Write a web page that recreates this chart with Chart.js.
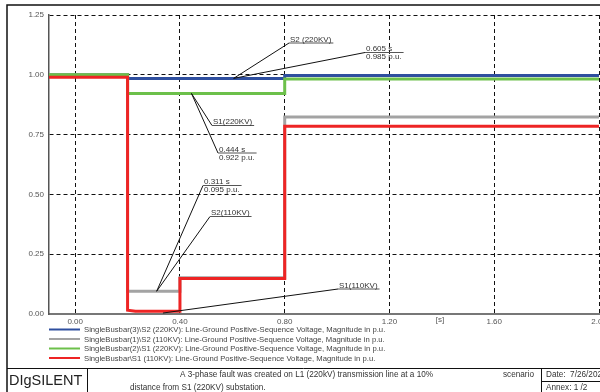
<!DOCTYPE html>
<html>
<head>
<meta charset="utf-8">
<script src="https://cdn.jsdelivr.net/npm/chart.js@4.4.0/dist/chart.umd.min.js"></script>
<style>
  html, body { margin: 0; padding: 0; background: #fff; }
  #chart { display: block; }
</style>
</head>
<body>
<canvas id="chart" width="600" height="392"></canvas>
<script>
// Кривые напряжения (время в с, значение в о.е.)
const seriesNames = [
  "SingleBusbar(3)\\S2 (220KV): Line-Ground Positive-Sequence Voltage, Magnitude in p.u.",
  "SingleBusbar(1)\\S2 (110KV): Line-Ground Positive-Sequence Voltage, Magnitude in p.u.",
  "SingleBusbar(2)\\S1 (220KV): Line-Ground Positive-Sequence Voltage, Magnitude in p.u.",
  "SingleBusbar\\S1 (110KV): Line-Ground Positive-Sequence Voltage, Magnitude in p.u.",
];
const seriesColors = ["#2f4f9f", "#a3a3a3", "#6cc04a", "#ee2424"];

const s2hvTime = [-0.1, 0.2, 0.2, 0.8, 0.8, 2.0];
const s2hvVals = [1.0, 1.0, 0.985, 0.985, 0.997, 0.997];

const s2lvTime = [-0.1, 0.2, 0.2, 0.4, 0.4, 0.8, 0.8, 2.0];
const s2lvVals = [1.0, 1.0, 0.095, 0.095, 0.152, 0.152, 0.824, 0.824];

const s1hvTime = [-0.1, 0.2, 0.2, 0.8, 0.8, 2.0];
const s1hvVals = [1.0, 1.0, 0.922, 0.922, 0.982, 0.982];

const s1lvTime = [-0.1, 0.2, 0.2, 0.23, 0.4, 0.4, 0.8, 0.8, 2.0];
const s1lvVals = [0.99, 0.99, 0.016, 0.012, 0.012, 0.148, 0.148, 0.785, 0.785];

const xTickValues = [0, 0.4, 0.8, 1.2, 1.6, 2.0];
const xTickLabels = ["0.00", "0.40", "0.80", "1.20", "1.60", "2.00"];

// Курсоры (значения) и метки кривых
const cursorT = [0.605, 0.444, 0.311];
const cursorV = [0.985, 0.922, 0.095];
const tagNames = ["S2 (220KV)", "S1(220KV)", "S2(110KV)", "S1(110KV)"];
const tagT = [0.605, 0.444, 0.311, 0.335];
const tagV = [0.985, 0.922, 0.095, 0.004];

const FONT = "Arial, 'Liberation Sans', sans-serif";

function toPoints(ts, vs) {
  return ts.map((t, i) => ({ x: t, y: vs[i] }));
}

const overlay = {
  id: "overlay",
  afterDraw(chart) {
    const ctx = chart.ctx;
    const xs = chart.scales.x;
    const ys = chart.scales.y;
    ctx.save();

    // рамка листа
    ctx.strokeStyle = "#111";
    ctx.lineWidth = 1.5;
    ctx.beginPath();
    ctx.moveTo(7, 392);
    ctx.lineTo(7, 5);
    ctx.lineTo(600, 5);
    ctx.stroke();
    ctx.lineWidth = 1;
    ctx.beginPath();
    ctx.moveTo(7, 368.5);
    ctx.lineTo(600, 368.5);
    ctx.moveTo(87.5, 368.5);
    ctx.lineTo(87.5, 392);
    ctx.moveTo(541.5, 368.5);
    ctx.lineTo(541.5, 392);
    ctx.moveTo(541.5, 381.5);
    ctx.lineTo(600, 381.5);
    ctx.stroke();

    // подпись оси
    ctx.fillStyle = "#555";
    ctx.font = "8px " + FONT;
    ctx.textAlign = "center";
    ctx.textBaseline = "middle";
    ctx.fillText("[s]", 440, 320);

    // легенда
    ctx.textAlign = "left";
    ctx.font = "7.7px " + FONT;
    const legendY = [329.5, 339, 348.5, 358];
    chart.data.datasets.forEach((ds, i) => {
      ctx.strokeStyle = ds.borderColor;
      ctx.lineWidth = 2;
      ctx.beginPath();
      ctx.moveTo(49, legendY[i]);
      ctx.lineTo(80, legendY[i]);
      ctx.stroke();
      ctx.fillStyle = "#444";
      ctx.fillText(ds.label, 84, legendY[i] + 0.5);
    });

    // выноски
    ctx.font = "8px " + FONT;
    const labelAt = (tx, ty, top, bottom) => {
      const w = Math.max(ctx.measureText(top).width, bottom ? ctx.measureText(bottom).width : 0) + 3;
      ctx.strokeStyle = "#555";
      ctx.lineWidth = 1;
      ctx.beginPath();
      ctx.moveTo(tx, ty);
      ctx.lineTo(tx + w, ty);
      ctx.stroke();
      ctx.fillStyle = "#333";
      ctx.textBaseline = "alphabetic";
      ctx.fillText(top, tx + 1, ty - 1.5);
      if (bottom) {
        ctx.textBaseline = "top";
        ctx.fillText(bottom, tx + 1, ty + 0.5);
      }
    };
    const leader = (t, v, tx, ty) => {
      ctx.strokeStyle = "#111";
      ctx.lineWidth = 1;
      ctx.beginPath();
      ctx.moveTo(xs.getPixelForValue(t), ys.getPixelForValue(v));
      ctx.lineTo(tx, ty);
      ctx.stroke();
    };
    const cursorBoxes = [[365, 52.5], [218, 153], [203, 185.5]];
    cursorT.forEach((t, i) => {
      const [bx, by] = cursorBoxes[i];
      leader(t, cursorV[i], bx, by);
      labelAt(bx, by, t.toFixed(3) + " s", cursorV[i].toFixed(3) + " p.u.");
    });
    const tagBoxes = [[289, 43], [212, 125.5], [210, 216.5], [338, 289]];
    tagNames.forEach((name, i) => {
      const [bx, by] = tagBoxes[i];
      leader(tagT[i], tagV[i], bx, by);
      labelAt(bx, by, name, null);
    });

    // штамп
    ctx.fillStyle = "#222";
    ctx.textBaseline = "middle";
    ctx.font = "14.5px " + FONT;
    ctx.fillText("DIgSILENT", 9, 380.5);
    ctx.font = "8.2px " + FONT;
    ctx.fillStyle = "#333";
    ctx.fillText("A 3-phase fault was created on L1 (220kV) transmission line at a 10%", 180, 375);
    ctx.fillText("distance from S1 (220KV) substation.", 130, 388);
    ctx.fillText("scenario", 503, 375);
    ctx.fillText("Date:  7/26/2022", 546, 375);
    ctx.fillText("Annex: 1 /2", 546, 388);
    ctx.restore();
  },
};

const series = [
  [s2hvTime, s2hvVals],
  [s2lvTime, s2lvVals],
  [s1hvTime, s1hvVals],
  [s1lvTime, s1lvVals],
];

const ctx = document.getElementById("chart").getContext("2d");
new Chart(ctx, {
  type: "line",
  data: {
    datasets: series.map(([ts, vs], i) => ({
      label: seriesNames[i],
      data: toPoints(ts, vs),
      borderColor: seriesColors[i],
      borderWidth: 3,
      pointRadius: 0,
      tension: 0,
      fill: false,
      order: 4 - i,
    })),
  },
  options: {
    responsive: false,
    animation: false,
    devicePixelRatio: 1,
    layout: { padding: { top: 15, right: 1, left: 0, bottom: 0 } },
    plugins: { legend: { display: false }, tooltip: { enabled: false } },
    scales: {
      x: {
        type: "linear",
        min: -0.1,
        max: 2.0,
        afterBuildTicks: (s) => {
          s.ticks = xTickValues.map((v) => ({ value: v }));
        },
        afterFit: (s) => {
          s.height = 78;
          s.paddingLeft = 0;
          s.paddingRight = 0;
        },
        ticks: {
          callback: (v, i) => xTickLabels[i],
          font: { size: 8, family: FONT },
          color: "#555",
          padding: 3,
          maxRotation: 0,
          autoSkip: false,
        },
        grid: { color: "#111", lineWidth: 1, drawTicks: false },
        border: { display: true, color: "#777", width: 2, dash: [4, 3] },
      },
      y: {
        min: 0,
        max: 1.25,
        afterFit: (s) => {
          s.width = 49;
          s.paddingTop = 0;
          s.paddingBottom = 0;
        },
        ticks: {
          stepSize: 0.25,
          callback: (v) => v.toFixed(2),
          font: { size: 8, family: FONT },
          color: "#555",
          padding: 5,
        },
        grid: { color: "#111", lineWidth: 1, drawTicks: false },
        border: { display: true, color: "#555", width: 1.5, dash: [4, 3] },
      },
    },
  },
  plugins: [overlay],
});
</script>
</body>
</html>
